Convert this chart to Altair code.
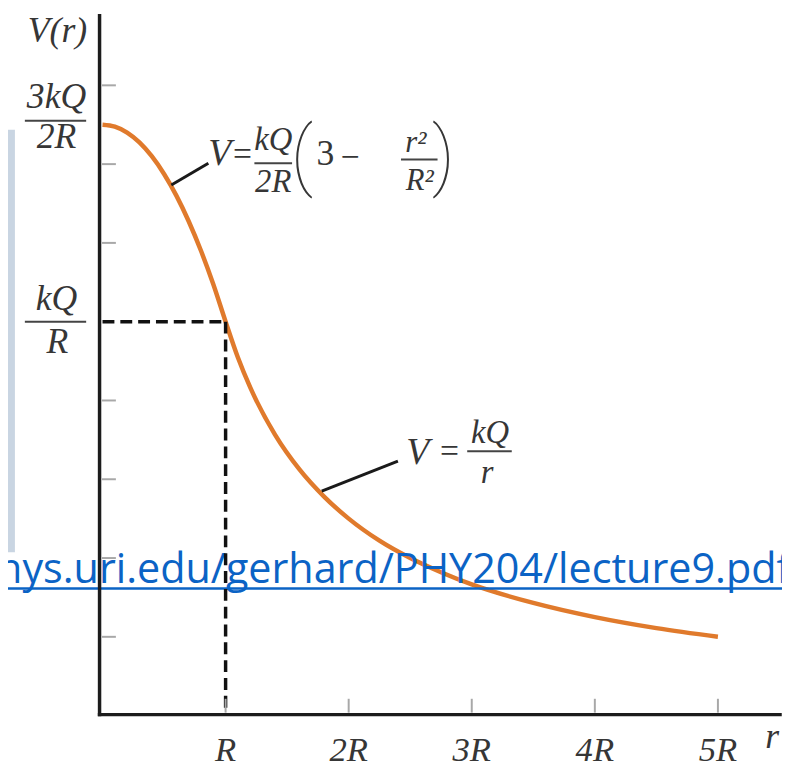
import altair as alt
import pandas as pd

# ---- data (r in units of R, V in units of kQ/R) ----
r_vals = [0.0, 0.1, 0.2, 0.3, 0.4, 0.5, 0.6, 0.7, 0.8, 0.9, 1.0, 1.1, 1.2, 1.4,
          1.6, 1.8, 2.0, 2.25, 2.5, 2.75, 3.0, 3.5, 4.0, 4.5, 5.0]
v_vals = [1.5, 1.495, 1.48, 1.455, 1.42, 1.375, 1.32, 1.255, 1.18, 1.095, 1.0,
          0.909, 0.833, 0.714, 0.625, 0.556, 0.5, 0.444, 0.4, 0.364, 0.333,
          0.286, 0.25, 0.222, 0.2]

x_ticks = [1, 2, 3, 4, 5]
x_tick_labels = ["R", "2R", "3R", "4R", "5R"]
y_ticks = [0.2, 0.4, 0.6, 0.8, 1.2, 1.4, 1.6]
marked_r = [1.0]
marked_v = [1.0]
url_text = ["hys.uri.edu/gerhard/PHY204/lecture9.pdf"]

# annotation anchors (text, r, V)
ylab_items = [("3kQ", -0.374, 1.543), ("2R", -0.374, 1.4397),
              ("kQ", -0.374, 1.030), ("R", -0.366, 0.9196)]
xlab_items = [(t, float(x), -0.114) for t, x in zip(x_tick_labels, x_ticks)]
title_items = [("V(r)", -0.366, 1.711)]
rname_items = [("r", 5.44, -0.083)]
big_ital = [("V", 0.953, 1.397), ("V", 2.561, 0.638)]
frac_ital = [("kQ", 1.387, 1.437), ("2R", 1.387, 1.329),
             ("kQ", 3.148, 0.693), ("r", 3.124, 0.590)]
small_ital = [("r²", 2.545, 1.4296), ("R²", 2.577, 1.334)]
upright_mid = [("=", 1.138, 1.397), ("−", 2.010, 1.391), ("=", 2.819, 0.643)]
upright_big = [("3", 1.810, 1.397)]
parens = [("(", 1.620, 1.356), (")", 2.770, 1.356)]

# segments (r, r2, v, v2)
frac_bars = [(-0.631, -0.133, 1.510, 1.510), (-0.631, -0.133, 1.0, 1.0),
             (1.234, 1.540, 1.402, 1.402), (2.425, 2.722, 1.412, 1.412),
             (2.963, 3.325, 0.671, 0.671)]
leaders = [(0.559, 0.860, 1.347, 1.402), (1.781, 2.400, 0.570, 0.646)]

SERIF = "Liberation Serif"
INK = "#363636"
ORANGE = "#E07A2C"
AXIS = "#1c1c1c"

XS = alt.Scale(domain=[-0.0201, 5.5046], nice=False, zero=False)
YS = alt.Scale(domain=[0, 1.7764], nice=False, zero=False)


def X(f="r"):
    return alt.X(f"{f}:Q", scale=XS, axis=None)


def Y(f="v"):
    return alt.Y(f"{f}:Q", scale=YS, axis=None)


def text_layer(items, size, italic=True, font=SERIF, weight="normal"):
    df = pd.DataFrame(items, columns=["t", "r", "v"])
    return alt.Chart(df).mark_text(
        font=font, fontSize=size, fontStyle="italic" if italic else "normal",
        fontWeight=weight, align="center", baseline="alphabetic", color=INK
    ).encode(x=X(), y=Y(), text="t:N")


def seg_layer(items, color, width):
    df = pd.DataFrame(items, columns=["r", "r2", "v", "v2"])
    return alt.Chart(df).mark_rule(color=color, strokeWidth=width).encode(
        x=X(), x2="r2:Q", y=Y(), y2="v2:Q")


one = pd.DataFrame({"a": [0]})

curve_df = pd.DataFrame({"r": r_vals, "v": v_vals})
curve = alt.Chart(curve_df).mark_line(
    color=ORANGE, strokeWidth=4.5, interpolate="monotone"
).encode(x=X(), y=Y())

panel = alt.Chart(one).mark_rect(color="#C9D5E2").encode(
    x=alt.value(-101), x2=alt.value(-86), y=alt.value(115), y2=alt.value(542))

url = alt.Chart(pd.DataFrame({"t": url_text})).mark_text(
    font="Open Sans", fontSize=41.7, align="left", baseline="alphabetic",
    color="#0B63C5"
).encode(x=alt.value(-104), y=alt.value(573), text="t:N")

underline = alt.Chart(one).mark_rule(
    color="#0B63C5", strokeWidth=2.5
).encode(x=alt.value(-101), x2=alt.value(689), y=alt.value(578.5))

y_axis = alt.Chart(one).mark_rule(color=AXIS, strokeWidth=3.5,
                                  strokeCap="square").encode(
    x=alt.value(-0.5), y=alt.value(0), y2=alt.value(706))
x_axis = alt.Chart(one).mark_rule(color=AXIS, strokeWidth=3.5,
                                  strokeCap="square").encode(
    x=alt.value(-0.5), x2=alt.value(687), y=alt.value(706))

mk = pd.DataFrame({"r": marked_r, "v": marked_v, "r0": [0.0], "v0": [0.0]})
dash_h = alt.Chart(mk).mark_rule(color="#111111", strokeWidth=3.5,
                                 strokeDash=[12, 6]).encode(
    x=X("r0"), x2="r:Q", y=Y())
dash_v = alt.Chart(mk).mark_rule(color="#111111", strokeWidth=3.5,
                                 strokeDash=[12, 6]).encode(
    x=X(), y=Y(), y2="v0:Q")

xt = alt.Chart(pd.DataFrame({"r": x_ticks})).mark_rule(
    color="#a8a8a8", strokeWidth=2).encode(
    x=X(), y=alt.value(704), y2=alt.value(690))
yt = alt.Chart(pd.DataFrame({"v": y_ticks})).mark_rule(
    color="#a8a8a8", strokeWidth=2).encode(
    y=Y(), x=alt.value(2), x2=alt.value(16))

chart = alt.layer(
    panel,
    curve,
    url,
    underline,
    dash_h,
    dash_v,
    xt,
    yt,
    y_axis,
    x_axis,
    seg_layer(leaders, "#1a1a1a", 3),
    seg_layer(frac_bars, "#444444", 2),
    text_layer(ylab_items, 36),
    text_layer(xlab_items, 35),
    text_layer(title_items, 36),
    text_layer(rname_items, 36),
    text_layer(big_ital, 38),
    text_layer(frac_ital, 33),
    text_layer(small_ital, 31),
    text_layer(upright_mid, 34, italic=False),
    text_layer(upright_big, 36, italic=False),
    text_layer(parens, 76, italic=False, font="Roboto", weight=100),
).properties(
    width=687,
    height=707,
    autosize=alt.AutoSizeParams(type="none"),
    padding={"left": 93, "top": 4, "right": 2, "bottom": 48},
    background="white",
).configure_view(stroke=None)

chart.save("out.html", embed_options={"renderer": "svg", "actions": False})
